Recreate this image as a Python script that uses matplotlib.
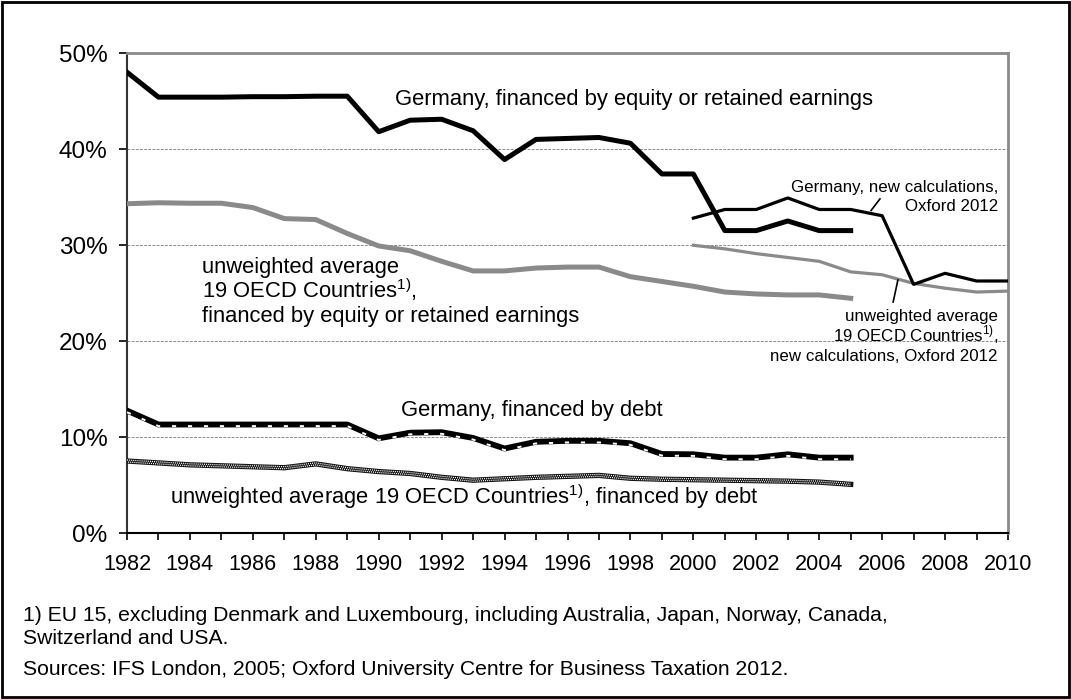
import numpy as np
import matplotlib
matplotlib.use("Agg")
import matplotlib.pyplot as plt
import matplotlib.transforms as mtransforms

plt.rcParams['font.family'] = ['Liberation Sans', 'DejaVu Sans']
plt.rcParams['mathtext.fontset'] = 'custom'
plt.rcParams['mathtext.rm'] = 'Liberation Sans'
plt.rcParams['lines.scale_dashes'] = False

# data (percent)
years_old = np.arange(1982, 2006)
years_new = np.arange(2000, 2011)

ger_equity = [48.0, 45.4, 45.4, 45.4, 45.45, 45.45, 45.5, 45.5, 41.8, 43.0, 43.1, 41.9,
              38.9, 41.0, 41.1, 41.2, 40.6, 37.4, 37.4, 31.5, 31.5, 32.5, 31.5, 31.5]
oecd_equity = [34.3, 34.4, 34.35, 34.35, 33.9, 32.75, 32.65, 31.2, 29.9, 29.4, 28.3, 27.3,
               27.3, 27.6, 27.7, 27.7, 26.7, 26.2, 25.7, 25.1, 24.9, 24.8, 24.8, 24.45]
ger_debt = [12.75, 11.3, 11.3, 11.3, 11.3, 11.3, 11.3, 11.3, 9.86, 10.45, 10.5, 9.9,
            8.8, 9.5, 9.6, 9.6, 9.35, 8.23, 8.2, 7.85, 7.85, 8.2, 7.85, 7.85]
oecd_debt = [7.5, 7.3, 7.1, 7.0, 6.9, 6.8, 7.2, 6.7, 6.4, 6.2, 5.8, 5.5,
             5.65, 5.8, 5.9, 6.0, 5.7, 5.6, 5.55, 5.5, 5.45, 5.4, 5.3, 5.07]
ger_new = [32.8, 33.7, 33.7, 34.9, 33.7, 33.7, 33.05, 25.9, 27.05, 26.25, 26.25]
oecd_new = [29.97, 29.6, 29.1, 28.7, 28.3, 27.2, 26.9, 26.0, 25.5, 25.1, 25.2]

W, H = 1071, 699
fig = plt.figure(figsize=(W / 100, H / 100), dpi=100)
ax = fig.add_axes([127 / W, 1 - 533 / H, (1008 - 127) / W, (533 - 53) / H])

gray = '#8a8a8a'
ax.plot(years_old, ger_equity, color='black', lw=3.6, zorder=4)
ax.plot(years_old, oecd_equity, color=gray, lw=3.6, zorder=3)
ax.plot(years_new, ger_new, color='black', lw=2.3, zorder=4)
ax.plot(years_new, oecd_new, color=gray, lw=2.3, zorder=3)

# debt, germany: black line with white dashes along the lower edge
ax.plot(years_old, ger_debt, color='black', lw=4.2, zorder=4)
down = mtransforms.offset_copy(ax.transData, fig=fig, x=0, y=-1.6, units='dots')
ax.plot(years_old, ger_debt, color='white', lw=1.4, dashes=(3, 8.5), transform=down, zorder=5)

# debt, oecd: checkered line
ax.plot(years_old, oecd_debt, color='#111111', lw=3.8, zorder=3)
up = mtransforms.offset_copy(ax.transData, fig=fig, x=0, y=1.0, units='dots')
dn = mtransforms.offset_copy(ax.transData, fig=fig, x=0, y=-1.0, units='dots')
ax.plot(years_old, oecd_debt, color='white', lw=0.9, dashes=(0.75, 0.75), transform=up, zorder=3.5)
ax.plot(years_old, oecd_debt, color='white', lw=0.9, linestyle=(0.75, (0.75, 0.75)),
        transform=dn, zorder=3.5)

ax.set_xlim(1982, 2010)
ax.set_ylim(0, 50)
ax.set_xticks(np.arange(1982, 2011, 2))
ax.set_xticks(np.arange(1982, 2011, 1), minor=True)
ax.set_yticks(np.arange(0, 51, 10))
ax.set_yticklabels([f'{v}%' for v in range(0, 51, 10)])
ax.tick_params(axis='both', direction='out', length=5, width=1.2, color='black')
ax.tick_params(axis='x', which='minor', direction='out', length=5, width=1.2)
ax.tick_params(axis='x', labelsize=15.6, pad=10)
ax.tick_params(axis='y', labelsize=17.5, pad=8, length=6)

for y in (10, 20, 30, 40):
    ax.axhline(y, color='#777777', lw=0.6, ls=(0, (2, 1)), zorder=1)

ax.spines['left'].set_color('#333333')
ax.spines['left'].set_linewidth(1.5)
ax.spines['bottom'].set_color('black')
ax.spines['bottom'].set_linewidth(1.5)
ax.spines['top'].set_color(gray)
ax.spines['top'].set_linewidth(2)
ax.spines['right'].set_color(gray)
ax.spines['right'].set_linewidth(2)


def label(px, py, s, size, ha='left'):
    # px, py: pixel position of the baseline start, measured from the top left
    fig.text(px / W, 1 - py / H, s, fontsize=size, ha=ha, va='baseline')


sup = r'$^{\mathrm{1)}}$'
big = 15.8
small = 12.2
label(395, 105, 'Germany, financed by equity or retained earnings', big)
label(202, 273, 'unweighted average', big)
label(202, 298, '19 OECD Countries' + sup + ',', big)
label(202, 322, 'financed by equity or retained earnings', big)
label(998, 192, 'Germany, new calculations,', small, ha='right')
label(998, 211, 'Oxford 2012', small, ha='right')
label(998, 321, 'unweighted average', small, ha='right')
label(998, 341, '19 OECD Countries' + sup + ',', small, ha='right')
label(998, 361, 'new calculations, Oxford 2012', small, ha='right')
label(401, 416, 'Germany, financed by debt', big)
label(170, 504, 'unweighted average 19 OECD Countries' + sup + ', financed by debt', big)

# leader lines
ax.plot([2005.93, 2005.65], [34.8, 33.6], color='black', lw=1.2, zorder=5)
ax.plot([2006.5, 2006.35], [26.35, 24.06], color='black', lw=1.2, zorder=5)

foot = 15.2
label(23, 621, '1) EU 15, excluding Denmark and Luxembourg, including Australia, Japan, Norway, Canada,', foot)
label(23, 644, 'Switzerland and USA.', foot)
label(23, 675, 'Sources: IFS London, 2005; Oxford University Centre for Business Taxation 2012.', foot)

# outer frame
fig.patches.append(plt.Rectangle((0.002, 0.003), 0.996, 0.994, transform=fig.transFigure,
                                 fill=False, edgecolor='black', lw=2))

fig.savefig('out.png', dpi=100)
